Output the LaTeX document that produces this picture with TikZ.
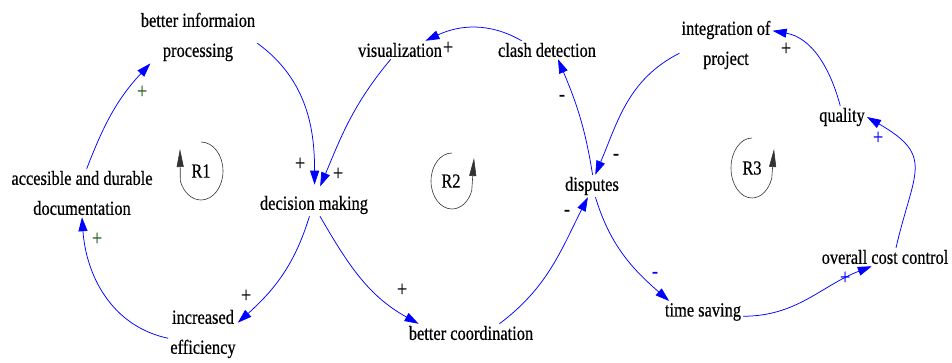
\documentclass[tikz,border=0pt]{standalone}
\usepackage{fontspec}
\setmainfont{Liberation Serif}[FakeStretch=0.82,FakeBold=0.5]
\usepackage{tikz}
\usetikzlibrary{arrows.meta}
\definecolor{cldBlue}{HTML}{0000FF}
\definecolor{cldGreen}{HTML}{1E5A1E}
\definecolor{cldGrey}{HTML}{333333}

\begin{document}
\begin{tikzpicture}[x=1pt,y=1pt,
  var/.style={font=\fontsize{20}{30}\selectfont,inner sep=2pt,align=center},
  link/.style={cldBlue,line width=0.75pt,-{Triangle[length=14pt,width=9pt]}},
  sgn/.style={font=\fontsize{22}{22}\selectfont,inner sep=0pt},
  loopline/.style={cldGrey,line width=0.6pt,-{Triangle[length=18pt,width=7pt]}}]
\useasboundingbox (0,0) rectangle (952,-362);
% variables
\node[var] (acc) at (82,-193) {accesible and durable\\documentation};
\node[var] (bip) at (198,-37) {better informaion\\processing};
\node[var] (dm) at (314,-205) {decision making};
\node[var] (ie) at (203,-334) {increased\\efficiency};
\node[var] (vis) at (400,-50) {visualization};
\node[var] (cd) at (547,-50) {clash detection};
\node[var] (bc) at (471,-333) {better coordination};
\node[var] (dis) at (592,-186) {disputes};
\node[var] (ip) at (726,-45) {integration of\\project};
\node[var] (q) at (842,-117) {quality};
\node[var] (occ) at (885,-257) {overall cost control};
\node[var] (ts) at (703,-312) {time saving};
% links
\draw[link] (acc.79) to[out=69,in=227] (bip.209);
\draw[link,shorten >=9pt] (bip.354) to[out=-36,in=90] (dm.87);
\draw[link,shorten >=8pt] (vis.225) to[out=230,in=67] (dm.75);
\draw[link] (dm.248) to[out=253,in=42] (ie.18);
\draw[link] (ie.187) to[out=168,in=-86] (acc.270);
\draw[link] (dm.298) to[out=300,in=151] (bc.170);
\draw[link] (bc.18) to[out=37,in=243] (dis.250);
\draw[link] (dis.87) to[out=99,in=293] (cd.320);
\draw[link] (cd.160) to[out=150,in=25] (vis.20);
\draw[link] (ip.190) to[out=207,in=67] (dis.74);
\draw[link] (dis.287) to[out=287,in=139] (ts.162);
\draw[link] (ts.354) to[out=0,in=201] (occ.215);
\draw[link,looseness=1.5] (occ.40) to[out=77,in=330] (q.0);
\draw[link] (q.99) to[out=105,in=350] (ip.17);
% polarities
\node[sgn,cldGreen] (s1) at (142,-92) {+};
\node[sgn] (s2) at (300,-164) {+};
\node[sgn] (s3) at (338,-174) {+};
\node[sgn] (s4) at (246,-296) {+};
\node[sgn,cldGreen] (s5) at (97,-239) {+};
\node[sgn] (s6) at (402,-290) {+};
\node[sgn] (s7) at (567,-213) {-};
\node[sgn] (s8) at (562,-98) {-};
\node[sgn] (s9) at (448,-48) {+};
\node[sgn] (s10) at (616,-157) {-};
\node[sgn,cldBlue] (s11) at (655,-275) {-};
\node[sgn,cldBlue] (s12) at (845,-278) {+};
\node[sgn,cldBlue] (s13) at (878,-138) {+};
\node[sgn] (s14) at (786,-49) {+};
% loop markers
\node[var] (r1) at (201,-171) {R1};
\node[var] (r2) at (451,-181) {R2};
\node[var] (r3) at (752,-168) {R3};
\draw[loopline] (201,-142) arc[start angle=90,end angle=-160,x radius=22,y radius=29] -- (180,-149);
\draw[loopline] (452,-153) arc[start angle=90,end angle=340,x radius=21,y radius=28] -- (474,-158);
\draw[loopline] (752,-138) arc[start angle=90,end angle=340,x radius=21,y radius=30] -- (774,-149);
\end{tikzpicture}
\end{document}
